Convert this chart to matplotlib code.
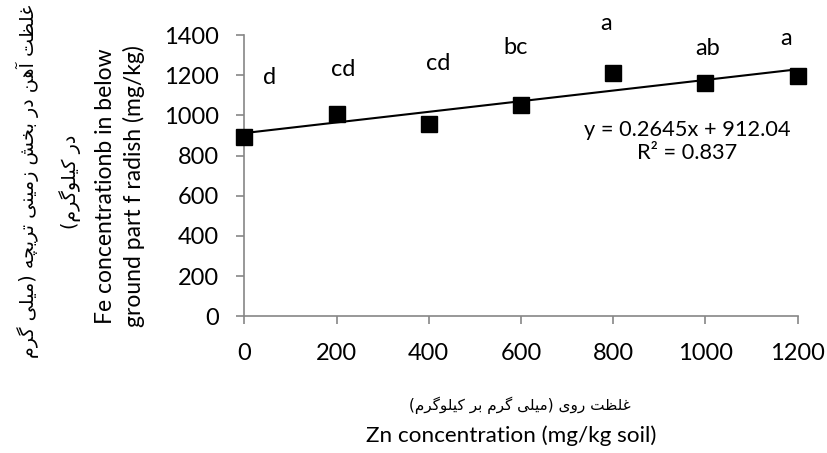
import matplotlib
matplotlib.use("Agg")
import matplotlib.pyplot as plt

# ---------------- data ----------------
zn = [0, 200, 400, 600, 800, 1000, 1200]
fe = [893, 1006, 957, 1050, 1210, 1160, 1196]
letters = ["d", "cd", "cd", "bc", "a", "ab", "a"]
slope = 0.2645
intercept = 912.04
r2_text = "0.837"
xticks = [0, 200, 400, 600, 800, 1000, 1200]
yticks = [0, 200, 400, 600, 800, 1000, 1200, 1400]

y_label_en = "Fe concentrationb in below\nground part f radish (mg/kg)"
y_label_fa = ["غلظت \u0622هن در بخش زمینی تریچه (میلی گرم", "در کیلوگرم)"]
x_label_fa = "غلظت روی (میلی گرم بر کیلوگرم)"
x_label_en = "Zn concentration (mg/kg soil)"

# letter label offsets in pixels relative to each point (placement only)
label_dx = [25, 7, 9, -5, -7, 2, -12]
label_dy = [59, 45, 61, 58, 50, 35, 38]

# ------------- simple Persian shaping (presentation forms) -------------
FORMS = {
    '\u0622': ('\uFE81', '\uFE82', None, None),
    '\u0627': ('\uFE8D', '\uFE8E', None, None),
    '\u0628': ('\uFE8F', '\uFE90', '\uFE91', '\uFE92'),
    '\u062A': ('\uFE95', '\uFE96', '\uFE97', '\uFE98'),
    '\u062E': ('\uFEA5', '\uFEA6', '\uFEA7', '\uFEA8'),
    '\u062F': ('\uFEA9', '\uFEAA', None, None),
    '\u0631': ('\uFEAD', '\uFEAE', None, None),
    '\u0632': ('\uFEAF', '\uFEB0', None, None),
    '\u0634': ('\uFEB5', '\uFEB6', '\uFEB7', '\uFEB8'),
    '\u0638': ('\uFEC5', '\uFEC6', '\uFEC7', '\uFEC8'),
    '\u063A': ('\uFECD', '\uFECE', '\uFECF', '\uFED0'),
    '\u0643': ('\uFED9', '\uFEDA', '\uFEDB', '\uFEDC'),
    '\u0644': ('\uFEDD', '\uFEDE', '\uFEDF', '\uFEE0'),
    '\u0645': ('\uFEE1', '\uFEE2', '\uFEE3', '\uFEE4'),
    '\u0646': ('\uFEE5', '\uFEE6', '\uFEE7', '\uFEE8'),
    '\u0647': ('\uFEE9', '\uFEEA', '\uFEEB', '\uFEEC'),
    '\u0648': ('\uFEED', '\uFEEE', None, None),
    '\u064A': ('\uFEF1', '\uFEF2', '\uFEF3', '\uFEF4'),
    '\u0686': ('\uFB7A', '\uFB7B', '\uFB7C', '\uFB7D'),
    '\u06A9': ('\uFB8E', '\uFB8F', '\uFB90', '\uFB91'),
    '\u06AF': ('\uFB92', '\uFB93', '\uFB94', '\uFB95'),
    '\u06CC': ('\uFBFC', '\uFBFD', '\uFBFE', '\uFBFF'),
}


def shape_rtl(s):
    out = []
    for i, ch in enumerate(s):
        if ch not in FORMS:
            out.append(ch)
            continue
        prev = s[i - 1] if i > 0 else None
        nxt = s[i + 1] if i + 1 < len(s) else None
        jp = prev in FORMS and FORMS[prev][2] is not None
        jn = FORMS[ch][2] is not None and nxt in FORMS
        iso, fin, ini, med = FORMS[ch]
        if jp and jn:
            out.append(med)
        elif jp:
            out.append(fin)
        elif jn:
            out.append(ini)
        else:
            out.append(iso)
    vis = ''.join(reversed(out))
    return vis.translate(str.maketrans('()', ')('))


# ---------------- figure ----------------
W, H = 827, 453
fig = plt.figure(figsize=(W / 100, H / 100), dpi=100)
ax = fig.add_axes([244.3 / W, 1 - 316.4 / H, (797.7 - 244.3) / W, (316.4 - 35) / H])

FONT = "Lato"
GREY = "#868686"

ax.plot(zn, fe, linestyle="none", marker="s", markersize=11, color="black",
        zorder=3, clip_on=False)
xs = [min(zn), max(zn)]
ax.plot(xs, [slope * x + intercept for x in xs], color="black", linewidth=1.5,
        zorder=2, clip_on=False)

for x, y, t, dx, dy in zip(zn, fe, letters, label_dx, label_dy):
    ax.annotate(t, (x, y), xytext=(dx, dy), textcoords="offset pixels",
                ha="center", va="center", fontsize=17, family=FONT,
                annotation_clip=False)

ax.text(0.80, 0.622, f"y = {slope}x + {intercept:.2f}\nR\u00b2 = {r2_text}",
        transform=ax.transAxes, ha="center", va="center", fontsize=15.7,
        family=FONT, linespacing=1.15)

ax.set_xlim(0, 1200)
ax.set_ylim(0, 1400)
ax.set_xticks(xticks)
ax.set_yticks(yticks)
ax.set_xticklabels([str(v) for v in xticks], family=FONT, fontsize=17)
ax.set_yticklabels([str(v) for v in yticks], family=FONT, fontsize=17)

for side in ("top", "right"):
    ax.spines[side].set_visible(False)
for side in ("left", "bottom"):
    ax.spines[side].set_color(GREY)
    ax.spines[side].set_linewidth(1.2)
ax.tick_params(axis="both", direction="out", length=6, width=1.2, color=GREY,
               labelcolor="black")
ax.tick_params(axis="y", pad=12)
ax.tick_params(axis="x", pad=13)

# y axis labels
fig.text(120 / W, 1 - 186 / H, y_label_en, rotation=90, ha="center", va="center",
         multialignment="center", fontsize=16.5, family=FONT, linespacing=1.35)
fig.text(27 / W, 1 - 181 / H, shape_rtl(y_label_fa[0]), rotation=90, ha="center",
         va="center", fontsize=13.8, family="DejaVu Sans")
fig.text(70 / W, 1 - 182 / H, shape_rtl(y_label_fa[1]), rotation=90, ha="center",
         va="center", fontsize=13.8, family="DejaVu Sans")

# x axis labels
fig.text(520 / W, 1 - 405 / H, shape_rtl(x_label_fa), ha="center", va="center",
         fontsize=11, family="DejaVu Sans")
fig.text(511 / W, 1 - 436 / H, x_label_en, ha="center", va="center",
         fontsize=16.2, family=FONT)

fig.savefig("out.png", dpi=100)
